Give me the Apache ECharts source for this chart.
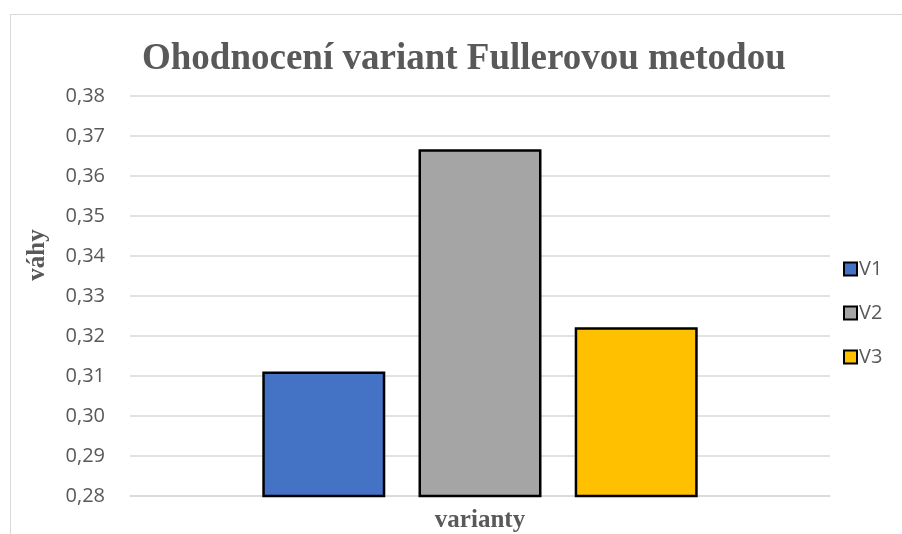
<!DOCTYPE html>
<html>
<head>
<meta charset="utf-8">
<script src="https://cdn.jsdelivr.net/npm/echarts@6/dist/echarts.min.js"></script>
<style>
  html, body { margin: 0; padding: 0; background: #fff; }
  #frame { position: absolute; left: 10px; top: 14px; width: 1000px; height: 600px; border: 1px solid #d9d9d9; }
  #chart { position: absolute; left: 0; top: 0; width: 902px; height: 534px; }
</style>
</head>
<body>
<div id="frame"></div>
<div id="chart"></div>
<script>
// data
var seriesNames = ['V1', 'V2', 'V3'];
var seriesValues = [0.3111, 0.3667, 0.3222];
var seriesColors = ['#4472c4', '#a5a5a5', '#ffc000'];
var yMin = 0.28, yMax = 0.38, yStep = 0.01;

var myChart = echarts.init(document.getElementById('chart'));

var series = seriesNames.map(function (name, i) {
  return {
    name: name,
    type: 'bar',
    data: [seriesValues[i]],
    barWidth: 123,
    barGap: '27%',
    itemStyle: { color: seriesColors[i], borderColor: '#000', borderWidth: 2.5 }
  };
});

var option = {
  animation: false,
  title: {
    text: 'Ohodnocení variant Fullerovou metodou',
    left: 137,
    top: 36,
    textStyle: { fontFamily: 'Liberation Serif', fontWeight: 'bold', fontSize: 37, color: '#595959' }
  },
  legend: {
    orient: 'vertical',
    left: 838,
    top: 254,
    icon: 'rect',
    itemWidth: 13,
    itemHeight: 13,
    itemGap: 24,
    textStyle: { fontFamily: 'Open Sans', fontSize: 20, color: '#595959', padding: [0, 0, 0, -3] },
    itemStyle: { borderColor: '#000', borderWidth: 2 },
    data: seriesNames
  },
  grid: { left: 130, right: 72, top: 96, bottom: 38, outerBoundsMode: 'none' },
  graphic: [{
    type: 'text',
    x: 38,
    y: 255,
    rotation: Math.PI / 2,
    style: {
      text: 'váhy',
      fontFamily: 'Liberation Serif',
      fontWeight: 'bold',
      fontSize: 25,
      fill: '#595959',
      align: 'center',
      verticalAlign: 'middle'
    }
  }],
  xAxis: {
    type: 'category',
    data: [''],
    name: 'varianty',
    nameLocation: 'middle',
    nameGap: 12,
    nameTextStyle: { fontFamily: 'Liberation Serif', fontWeight: 'bold', fontSize: 25, color: '#595959' },
    axisLine: { show: true, lineStyle: { color: '#d9d9d9', width: 1.5 } },
    axisTick: { show: false },
    axisLabel: { show: false }
  },
  yAxis: {
    type: 'value',
    min: yMin,
    max: yMax,
    interval: yStep,
    axisLine: { show: false },
    axisTick: { show: false },
    axisLabel: {
      margin: 25,
      fontFamily: 'Open Sans',
      fontSize: 20,
      color: '#595959',
      formatter: function (v) { return v.toFixed(2).replace('.', ','); }
    },
    splitLine: { lineStyle: { color: '#d9d9d9', width: 1.5 } }
  },
  series: series
};

myChart.setOption(option);
</script>
</body>
</html>
